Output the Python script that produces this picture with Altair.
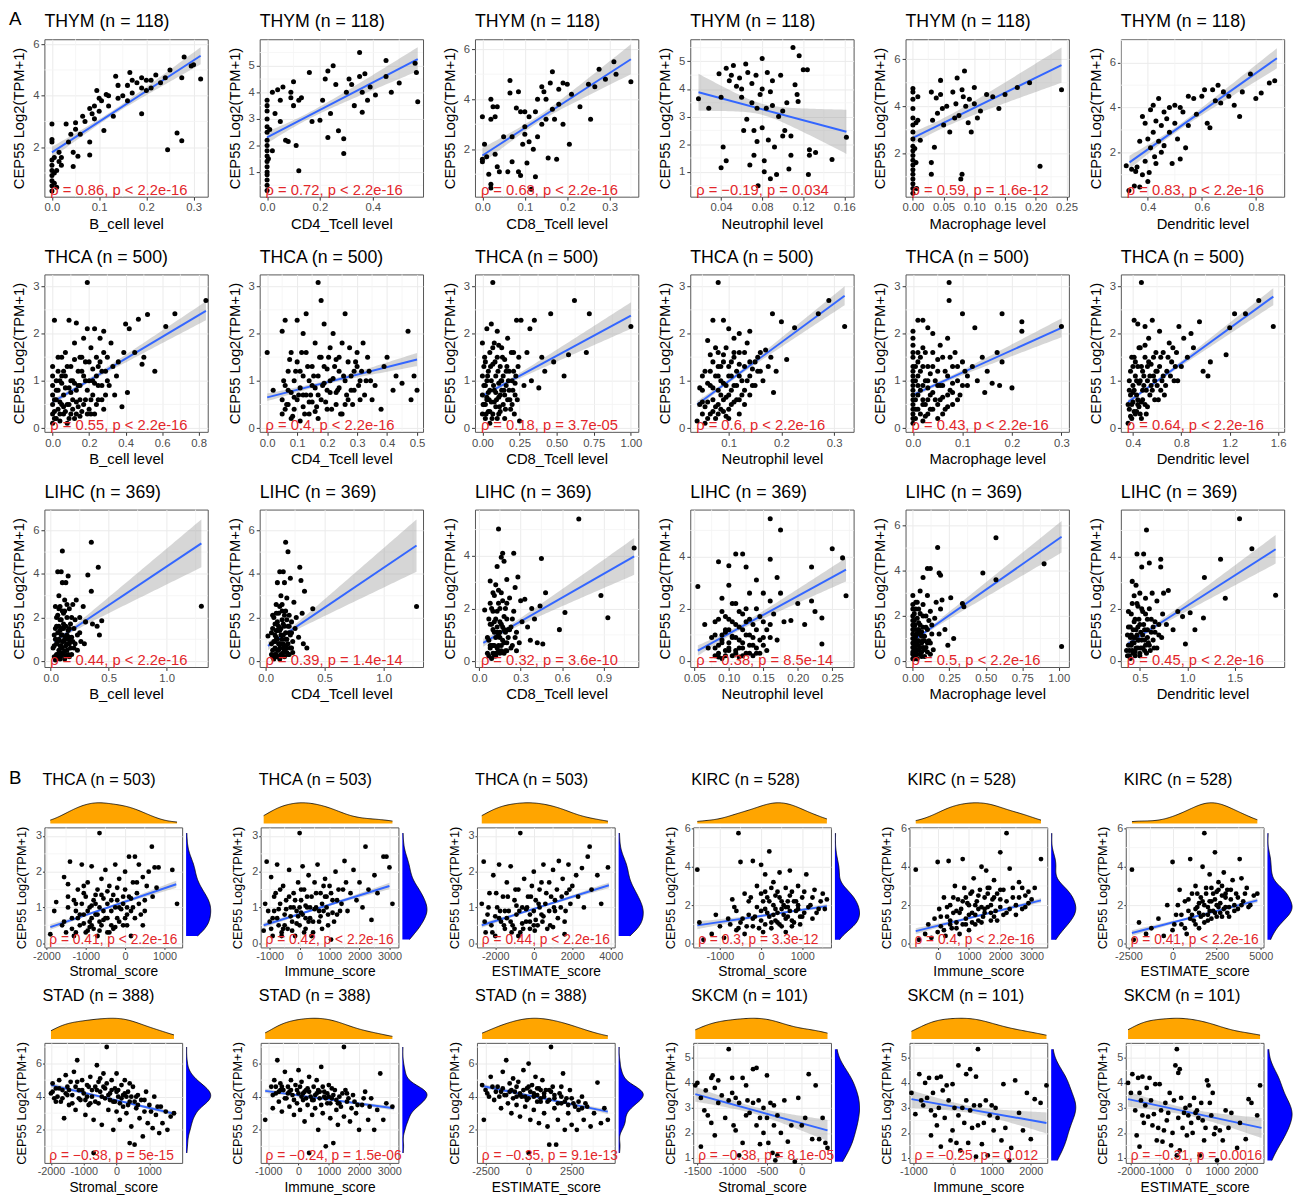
import altair as alt
import pandas as pd
import numpy as np

FONT = "Liberation Sans"
YLAB = "CEP55 Log2(TPM+1)"
RED = "#E3262A"

# ---------------- A, row 1: THYM (n = 118) ----------------
THYM_B = [(0.0,0.3),(0.0,0.5),(0.0,0.7),(0.0,0.9),(0.0,1.1),(0.0,1.3),(0.0,1.5),(0.0,2.2),(0.0,2.3),(0.0,2.9),
          (0.005,0.6),(0.005,1.0),(0.005,1.6),(0.01,0.45),(0.01,1.1),(0.015,1.8),(0.015,1.45),(0.02,1.6),(0.02,1.3),
          (0.03,2.9),(0.035,2.2),(0.04,2.5),(0.045,1.25),(0.045,1.8),(0.05,2.7),(0.05,2.95),(0.055,1.65),(0.06,2.5),
          (0.065,3.2),(0.07,3.0),(0.08,3.5),(0.08,2.2),(0.08,1.7),(0.085,3.3),(0.09,3.6),(0.095,4.2),(0.1,3.4),
          (0.105,3.8),(0.11,2.65),(0.115,4.05),(0.12,3.6),(0.13,3.2),(0.135,4.75),(0.14,3.9),(0.15,4.0),(0.16,4.4),
          (0.165,4.9),(0.17,4.1),(0.18,4.5),(0.19,3.3),(0.19,4.7),(0.2,4.2),(0.21,4.6),(0.22,4.8),(0.23,4.5),
          (0.245,1.9),(0.25,5.0),(0.265,2.55),(0.275,2.25),(0.275,4.7),(0.28,5.5),(0.295,5.15),(0.3,5.2),(0.315,4.65),
          (0.09,3.1),(0.1,3.9),(0.12,4.0),(0.14,4.4),(0.16,3.8),(0.17,4.6),(0.19,4.3),(0.2,4.6),(0.21,4.3),(0.24,4.7)]
THYM_CD4 = [(0,0.3),(0,0.5),(0,0.7),(0,0.9),(0,1.0),(0,1.2),(0,1.4),(0,1.6),(0,1.8),(0,2.0),(0,2.2),(0,2.5),(0,2.7),
            (0,3.0),(0,3.3),(0,3.5),(0,3.7),(0.005,1.5),(0.01,2.6),(0.02,1.8),(0.02,4.0),(0.03,3.2),(0.04,4.1),
            (0.05,3.7),(0.05,2.9),(0.06,4.2),(0.07,2.2),(0.08,2.15),(0.09,3.8),(0.09,4.0),(0.1,4.4),(0.1,3.5),
            (0.11,2.0),(0.12,3.7),(0.12,1.05),(0.13,3.8),(0.16,4.75),(0.17,2.9),(0.2,2.95),(0.21,3.7),(0.22,4.5),
            (0.23,4.8),(0.23,2.3),(0.24,3.2),(0.25,5.0),(0.26,4.3),(0.27,2.55),(0.29,1.7),(0.29,2.25),(0.3,4.0),
            (0.31,4.5),(0.32,4.3),(0.33,3.5),(0.35,5.5),(0.35,4.6),(0.36,4.0),(0.36,3.25),(0.37,4.7),(0.38,3.7),
            (0.39,4.2),(0.41,3.9),(0.45,5.2),(0.45,4.6),(0.47,4.0),(0.5,4.35),(0.56,5.1),(0.565,4.75),(0.57,3.65)]
THYM_CD8 = [(0.0,1.5),(0.0,1.6),(0.0,3.3),(0.005,2.2),(0.01,1.7),(0.015,1.0),(0.02,0.6),(0.02,0.45),(0.02,4.0),
            (0.02,3.2),(0.025,3.7),(0.03,3.3),(0.03,1.8),(0.035,1.3),(0.035,3.7),(0.04,1.1),(0.05,2.5),(0.06,1.1),
            (0.065,4.75),(0.065,4.25),(0.07,2.5),(0.07,1.5),(0.08,3.65),(0.085,1.1),(0.085,4.3),(0.09,0.95),
            (0.09,3.5),(0.095,2.2),(0.1,2.6),(0.1,2.9),(0.1,3.5),(0.105,1.45),(0.11,3.3),(0.11,2.3),(0.115,0.4),
            (0.12,2.0),(0.125,0.9),(0.125,3.5),(0.13,2.5),(0.13,4.0),(0.14,3.0),(0.14,4.5),(0.145,4.3),(0.15,3.2),
            (0.15,4.0),(0.155,1.65),(0.16,4.65),(0.165,5.1),(0.165,3.6),(0.17,3.2),(0.175,1.6),(0.18,4.4),(0.18,3.8),
            (0.19,4.65),(0.19,3.0),(0.2,4.6),(0.205,2.2),(0.21,4.2),(0.23,3.7),(0.25,4.6),(0.255,3.2),(0.265,4.5),
            (0.275,5.2),(0.29,4.8),(0.31,5.5),(0.315,5.0),(0.35,4.7)]
THYM_NEU = [(0.018,3.65),(0.028,3.3),(0.038,4.55),(0.04,3.7),(0.04,1.15),(0.042,1.9),(0.045,4.75),(0.045,1.4),
            (0.048,4.3),(0.05,4.5),(0.052,4.85),(0.055,4.1),(0.058,4.4),(0.06,4.0),(0.06,3.7),(0.062,2.5),(0.064,4.9),
            (0.065,2.9),(0.066,4.6),(0.068,1.25),(0.07,4.2),(0.07,3.5),(0.072,2.5),(0.072,1.6),(0.074,4.5),(0.075,3.3),
            (0.075,2.1),(0.076,0.5),(0.078,3.8),(0.08,4.0),(0.08,5.1),(0.08,2.6),(0.082,1.0),(0.082,1.4),(0.084,3.3),
            (0.085,4.6),(0.086,2.15),(0.088,0.75),(0.088,3.9),(0.09,4.3),(0.09,3.4),(0.092,1.9),(0.094,0.9),(0.096,3.0),
            (0.098,4.5),(0.1,3.2),(0.1,2.3),(0.102,2.5),(0.104,3.5),(0.106,1.1),(0.108,2.3),(0.108,1.6),(0.11,5.5),
            (0.112,4.15),(0.114,3.8),(0.115,3.55),(0.116,5.2),(0.12,4.7),(0.124,4.7),(0.125,0.9),(0.126,1.6),
            (0.126,1.8),(0.132,1.7),(0.148,1.45),(0.162,2.25)]
THYM_MAC = [(0,0.3),(0,0.5),(0,0.7),(0,0.9),(0,1.1),(0,1.3),(0,1.5),(0,1.7),(0,1.9),(0,2.1),(0,2.3),(0,2.6),(0,2.9),
            (0,3.2),(0,3.5),(0,3.9),(0,4.3),(0,4.6),(0,4.75),(0.003,2.2),(0.005,1.6),(0.005,3.3),(0.006,0.5),
            (0.008,4.4),(0.008,3.4),(0.012,2.55),(0.03,1.6),(0.03,1.1),(0.03,4.6),(0.032,3.4),(0.035,2.25),(0.038,4.35),
            (0.04,3.7),(0.045,5.1),(0.045,4.5),(0.048,3.9),(0.05,3.2),(0.055,4.0),(0.06,2.9),(0.065,4.6),(0.068,3.5),
            (0.07,4.1),(0.072,5.2),(0.075,3.6),(0.078,0.9),(0.08,1.1),(0.08,4.7),(0.082,4.4),(0.084,5.5),(0.086,4.0),
            (0.09,3.3),(0.092,4.3),(0.095,2.9),(0.1,4.1),(0.1,4.8),(0.105,3.5),(0.11,3.8),(0.12,4.5),(0.13,4.4),
            (0.14,3.9),(0.15,4.5),(0.17,4.8),(0.19,5.0),(0.207,1.45),(0.242,4.7)]
THYM_DC = [(0.32,1.4),(0.33,0.3),(0.34,1.25),(0.35,0.5),(0.355,1.15),(0.36,1.35),(0.37,0.45),(0.37,2.5),(0.38,1.0),
           (0.38,3.6),(0.39,3.3),(0.39,1.6),(0.4,2.6),(0.4,0.7),(0.405,1.1),(0.41,3.9),(0.41,2.2),(0.42,4.1),(0.42,2.9),
           (0.425,1.8),(0.43,3.4),(0.43,1.5),(0.44,4.4),(0.44,2.5),(0.45,3.2),(0.45,2.0),(0.46,3.8),(0.46,2.3),
           (0.47,3.5),(0.48,4.0),(0.48,2.9),(0.49,1.5),(0.5,4.1),(0.5,3.3),(0.51,2.6),(0.52,4.0),(0.52,1.7),(0.53,3.8),
           (0.54,2.2),(0.55,4.5),(0.55,3.2),(0.57,4.4),(0.58,3.7),(0.6,4.5),(0.61,4.8),(0.62,3.3),(0.63,3.1),
           (0.64,4.8),(0.65,4.3),(0.66,5.0),(0.67,4.2),(0.68,4.7),(0.7,4.5),(0.72,4.1),(0.74,3.6),(0.75,4.7),
           (0.78,5.5),(0.8,4.4),(0.82,4.65),(0.85,5.1),(0.87,5.2)]

# ---------------- A, row 2: THCA (n = 500) ----------------
THCA_B = [(0.0,0.1),(0.0,0.3),(0.0,0.5),(0.0,0.7),(0.0,0.9),(0.0,1.1),(0.0,1.3),(0.01,2.28),(0.02,0.2),(0.02,0.6),
          (0.02,1.0),(0.03,0.4),(0.03,0.8),(0.03,1.2),(0.04,0.15),(0.05,0.5),(0.05,0.95),(0.05,1.5),(0.06,0.3),
          (0.06,0.7),(0.07,1.1),(0.07,1.6),(0.08,0.1),(0.08,0.5),(0.09,0.85),(0.09,2.28),(0.1,0.3),(0.1,1.3),
          (0.11,0.6),(0.11,1.0),(0.12,1.8),(0.12,0.2),(0.13,0.8),(0.13,2.22),(0.14,0.45),(0.14,1.2),(0.15,1.5),
          (0.15,0.9),(0.16,0.35),(0.17,1.1),(0.17,1.9),(0.18,0.6),(0.18,1.4),(0.19,3.08),(0.19,2.1),(0.2,0.4),
          (0.2,1.0),(0.21,1.7),(0.22,0.7),(0.22,1.25),(0.23,2.1),(0.24,0.5),(0.24,1.5),(0.25,0.9),(0.26,1.9),
          (0.27,1.2),(0.28,2.05),(0.29,0.7),(0.3,1.5),(0.3,1.0),(0.32,1.8),(0.34,0.7),(0.36,1.4),(0.38,0.45),
          (0.39,1.6),(0.4,2.2),(0.41,0.75),(0.42,2.1),(0.45,1.6),(0.47,2.3),(0.49,1.35),(0.5,1.5),(0.52,2.4),
          (0.56,1.2),(0.62,2.15),(0.67,2.42),(0.84,2.7),
          (0.01,0.2),(0.01,0.6),(0.04,0.55),(0.04,1.0),(0.06,1.2),(0.07,0.35),(0.09,0.5),(0.1,0.75),(0.12,0.95),
          (0.13,0.3),(0.15,0.6),(0.16,1.2),(0.19,0.8),(0.21,0.3),(0.23,0.95),(0.25,1.3),(0.27,0.6),(0.28,1.6)]
THCA_B_CORE = [(0.01,0.35),(0.02,0.8),(0.03,1.5),(0.04,0.3),(0.05,1.1),(0.06,0.45),(0.07,0.85),(0.08,1.3),
               (0.09,0.2),(0.1,1.0),(0.11,0.4),(0.12,1.45),(0.13,0.55),(0.14,0.9),(0.15,0.25),(0.16,1.5),(0.17,0.5),
               (0.18,1.0),(0.19,0.3),(0.2,1.4),(0.21,0.6),(0.22,1.0),(0.23,0.3),(0.24,1.1),(0.25,0.6),(0.26,1.4),
               (0.27,0.9),(0.28,0.4),(0.29,1.2),(0.31,0.9),(0.33,1.3),(0.35,1.1)]
THCA_CD4 = [(0.0,1.6),(0.02,0.8),(0.05,0.3),(0.05,0.6),(0.05,2.05),(0.06,2.28),(0.06,0.9),(0.07,0.5),(0.07,1.2),
            (0.08,0.2),(0.08,0.75),(0.08,1.6),(0.09,0.4),(0.09,1.0),(0.1,2.28),(0.1,0.6),(0.1,1.4),(0.11,0.15),
            (0.11,0.85),(0.12,1.1),(0.12,2.0),(0.12,0.45),(0.13,2.42),(0.13,0.7),(0.13,1.6),(0.14,0.3),(0.14,1.0),
            (0.15,1.3),(0.15,0.55),(0.16,1.8),(0.16,0.85),(0.17,3.08),(0.17,0.2),(0.17,1.1),(0.18,2.7),(0.18,0.6),
            (0.18,1.5),(0.19,0.95),(0.19,2.2),(0.2,0.4),(0.2,1.25),(0.21,1.7),(0.21,0.75),(0.22,1.05),(0.22,2.0),
            (0.23,0.5),(0.23,1.45),(0.24,1.2),(0.24,0.85),(0.25,1.8),(0.25,0.3),(0.26,2.42),(0.26,1.0),(0.27,0.6),
            (0.27,1.4),(0.28,1.1),(0.29,0.8),(0.3,1.6),(0.3,1.3),(0.31,0.6),(0.32,1.8),(0.33,1.0),(0.34,1.2),
            (0.35,0.6),(0.36,0.9),(0.38,0.4),(0.39,1.3),(0.4,1.5),(0.42,0.8),(0.43,1.1),(0.45,0.95),(0.47,2.05),
            (0.48,0.6),(0.49,1.1),(0.5,0.8),
            (0.06,0.4),(0.07,0.8),(0.09,0.65),(0.11,1.2),(0.12,0.7),(0.14,0.55),(0.15,0.9),(0.16,0.35),(0.17,0.7),
            (0.19,1.3),(0.2,0.8),(0.21,1.0),(0.23,0.75),(0.24,1.5),(0.26,0.5),(0.28,0.8),(0.29,1.2),(0.31,1.0)]
THCA_CD4_CORE = [(0.055,1.0),(0.065,0.5),(0.075,1.45),(0.085,0.25),(0.095,1.2),(0.105,0.7),(0.115,1.6),(0.125,0.3),
                 (0.135,1.3),(0.145,0.7),(0.155,1.1),(0.165,0.45),(0.175,1.5),(0.185,0.9),(0.195,0.55),(0.205,1.5),
                 (0.215,0.4),(0.225,1.3),(0.235,0.8),(0.245,0.3),(0.255,1.1),(0.265,0.7),(0.275,1.7),(0.285,0.5),
                 (0.295,1.4),(0.305,0.9),(0.315,1.2),(0.325,0.7),(0.335,1.5),(0.345,1.0)]
THCA_CD8 = [(0.0,0.3),(0.0,0.7),(0.0,1.1),(0.0,1.8),(0.02,0.2),(0.02,0.5),(0.02,0.9),(0.02,1.4),(0.03,2.1),
            (0.04,0.35),(0.04,0.75),(0.04,1.2),(0.05,1.6),(0.05,0.1),(0.06,0.55),(0.06,1.0),(0.06,2.2),(0.07,3.08),
            (0.07,0.3),(0.07,1.35),(0.08,0.8),(0.08,1.8),(0.09,0.45),(0.09,1.1),(0.1,0.2),(0.1,1.5),(0.1,2.05),
            (0.11,0.65),(0.11,0.95),(0.12,1.3),(0.12,0.35),(0.13,1.7),(0.13,0.8),(0.14,0.5),(0.14,1.1),(0.15,0.2),
            (0.15,1.45),(0.16,0.9),(0.17,0.6),(0.17,1.9),(0.18,1.2),(0.19,0.4),(0.2,1.0),(0.21,1.6),(0.22,0.7),
            (0.23,2.28),(0.24,1.3),(0.25,0.15),(0.26,2.28),(0.28,0.9),(0.3,1.6),(0.32,2.1),(0.33,1.0),(0.35,2.28),
            (0.38,0.85),(0.4,1.5),(0.42,1.2),(0.46,2.42),(0.48,1.4),(0.55,1.1),(0.58,1.55),(0.62,2.7),(0.7,1.6),
            (0.72,2.42),(1.0,2.15),
            (0.01,0.5),(0.01,1.3),(0.03,0.6),(0.03,1.0),(0.05,0.8),(0.08,0.55),(0.09,0.75),(0.11,0.3),(0.12,0.7),
            (0.13,1.0),(0.15,0.7),(0.16,1.2),(0.18,0.8),(0.2,0.5),(0.21,1.2),(0.22,0.95)]
THCA_CD8_CORE = [(0.005,0.5),(0.01,0.9),(0.015,1.5),(0.025,0.3),(0.035,1.1),(0.045,0.6),(0.055,1.3),(0.065,0.2),
                 (0.075,0.9),(0.085,1.4),(0.095,0.6),(0.105,1.2),(0.115,0.45),(0.125,1.0),(0.135,1.5),(0.145,0.8),
                 (0.155,0.4),(0.165,1.3),(0.175,1.0),(0.185,0.6),(0.195,1.6),(0.205,0.8),(0.215,0.3),(0.225,1.1),
                 (0.235,0.6),(0.245,1.5),(0.03,0.65),(0.05,0.35),(0.07,1.7),(0.11,1.75)]
THCA_NEU = [(0.04,0.15),(0.045,0.5),(0.05,0.3),(0.05,0.8),(0.055,0.1),(0.055,1.2),(0.06,0.55),(0.06,1.85),
            (0.065,0.3),(0.065,0.9),(0.07,1.4),(0.07,2.28),(0.07,0.6),(0.075,0.2),(0.075,1.1),(0.08,3.08),(0.08,0.8),
            (0.08,1.6),(0.085,0.4),(0.085,1.3),(0.09,2.28),(0.09,0.95),(0.09,0.6),(0.095,1.7),(0.095,0.25),(0.1,1.1),
            (0.1,2.1),(0.1,0.7),(0.105,1.4),(0.105,0.5),(0.11,1.9),(0.11,0.9),(0.115,1.2),(0.12,0.6),(0.12,1.6),
            (0.12,2.0),(0.125,1.0),(0.13,1.3),(0.13,0.8),(0.135,1.8),(0.14,1.1),(0.14,2.05),(0.145,0.9),(0.15,1.4),
            (0.155,1.2),(0.16,1.6),(0.165,1.0),(0.17,1.65),(0.175,1.3),(0.18,1.5),(0.183,2.42),(0.185,0.75),(0.19,1.2),
            (0.2,2.25),(0.21,1.45),(0.225,2.12),(0.27,2.42),(0.29,2.7),(0.32,2.15),
            (0.05,0.55),(0.06,0.2),(0.065,1.2),(0.07,0.35),(0.08,0.5),(0.08,1.1),(0.085,0.7),(0.09,1.4),(0.095,0.9),
            (0.1,0.4),(0.105,0.8),(0.11,1.5),(0.115,0.6),(0.12,1.1),(0.13,0.5),(0.14,1.4)]
THCA_NEU_CORE = [(0.045,0.85),(0.05,1.1),(0.055,0.45),(0.06,0.95),(0.065,1.55),(0.07,0.85),(0.075,0.45),(0.075,1.7),
                 (0.08,0.3),(0.08,1.3),(0.085,1.0),(0.09,0.35),(0.09,1.55),(0.095,0.65),(0.1,1.3),(0.1,0.2),
                 (0.105,1.1),(0.11,0.55),(0.11,1.6),(0.115,0.9),(0.12,0.3),(0.12,1.35),(0.125,0.7),(0.13,1.6),
                 (0.135,1.0),(0.14,0.7),(0.145,1.25),(0.15,0.9),(0.155,1.5),(0.16,1.2)]
THCA_MAC = [(0,0.1),(0,0.3),(0,0.5),(0,0.7),(0,0.9),(0,1.1),(0,1.3),(0,1.6),(0,1.9),(0,2.05),(0.005,0.2),(0.005,0.6),
            (0.005,1.0),(0.01,2.28),(0.01,0.4),(0.01,1.4),(0.015,0.8),(0.015,1.2),(0.02,0.15),(0.02,2.28),(0.02,1.7),
            (0.025,0.5),(0.025,1.0),(0.03,2.12),(0.03,0.3),(0.03,1.3),(0.035,0.7),(0.04,1.6),(0.04,0.4),(0.04,2.0),
            (0.045,1.0),(0.05,0.2),(0.05,1.2),(0.055,0.6),(0.055,1.75),(0.06,0.9),(0.06,1.5),(0.065,0.4),(0.07,1.1),
            (0.07,1.9),(0.073,3.08),(0.073,2.7),(0.075,0.8),(0.08,1.3),(0.08,0.5),(0.085,1.6),(0.09,1.0),(0.095,0.7),
            (0.1,1.4),(0.1,2.42),(0.105,1.2),(0.11,0.9),(0.12,1.3),(0.125,2.12),(0.13,1.0),(0.14,1.5),(0.145,0.75),
            (0.15,1.2),(0.16,0.95),(0.17,1.6),(0.175,0.9),(0.18,2.42),(0.18,1.4),(0.2,0.85),(0.22,2.25),(0.22,2.05),
            (0.3,2.15),
            (0.0,0.4),(0.0,0.8),(0.0,1.2),(0.01,0.7),(0.01,1.1),(0.02,0.5),(0.02,0.9),(0.03,0.6),(0.03,1.0),
            (0.04,0.75),(0.05,0.5),(0.05,0.9),(0.06,0.65),(0.07,0.45),(0.08,0.95),(0.09,0.6)]
THCA_MAC_CORE = [(0,0.2),(0,0.6),(0,1.0),(0,1.5),(0,1.75),(0.005,0.4),(0.005,1.3),(0.01,0.9),(0.01,1.6),(0.015,0.3),
                 (0.015,1.5),(0.02,0.6),(0.02,1.3),(0.025,0.25),(0.025,1.6),(0.03,0.85),(0.035,1.15),(0.035,0.4),
                 (0.04,1.3),(0.045,0.6),(0.05,1.45),(0.055,0.9),(0.06,0.3),(0.065,1.2),(0.07,0.7),(0.075,1.5),
                 (0.08,0.75),(0.09,1.3),(0.1,0.9),(0.11,1.1)]
THCA_DC = [(0.36,0.1),(0.37,0.4),(0.38,0.7),(0.38,1.2),(0.39,0.2),(0.4,0.55),(0.4,0.9),(0.41,2.28),(0.41,1.5),
           (0.42,0.3),(0.42,1.1),(0.43,0.7),(0.44,2.2),(0.44,1.3),(0.45,0.45),(0.45,0.95),(0.46,1.7),(0.47,3.08),
           (0.47,0.2),(0.48,1.2),(0.48,0.8),(0.5,1.5),(0.5,2.15),(0.5,0.5),(0.52,1.0),(0.53,1.9),(0.54,0.7),
           (0.55,1.35),(0.56,2.28),(0.57,1.1),(0.58,0.6),(0.59,1.6),(0.6,0.9),(0.62,1.3),(0.62,2.05),(0.64,1.0),
           (0.65,1.6),(0.66,0.7),(0.68,1.2),(0.7,1.8),(0.72,1.4),(0.74,1.0),(0.76,1.6),(0.78,2.15),(0.8,1.3),
           (0.82,1.9),(0.85,1.5),(0.88,2.0),(0.9,1.7),(0.95,2.25),(0.98,1.2),(1.02,1.1),(1.04,1.4),(1.17,1.55),
           (1.2,2.12),(1.24,2.42),(1.33,2.42),(1.44,2.7),(1.56,2.15),
           (0.37,0.8),(0.39,0.5),(0.4,1.3),(0.41,0.8),(0.43,0.35),(0.44,0.6),(0.46,1.0),(0.47,0.55),(0.49,0.9),
           (0.51,0.3),(0.52,1.3),(0.54,1.1),(0.56,0.8),(0.58,1.0),(0.6,1.2),(0.63,0.8)]
THCA_DC_CORE = [(0.36,0.5),(0.37,1.0),(0.38,0.25),(0.39,1.5),(0.4,0.75),(0.41,0.35),(0.42,1.4),(0.43,1.0),(0.44,0.5),
                (0.45,1.7),(0.46,0.3),(0.47,1.3),(0.48,0.6),(0.49,1.1),(0.5,1.75),(0.51,0.8),(0.52,0.45),(0.53,1.4),
                (0.55,0.9),(0.57,1.5),(0.59,1.2),(0.61,0.6),(0.63,1.5),(0.65,1.1),(0.67,0.9),(0.69,1.5),(0.71,1.1),
                (0.73,1.7),(0.75,1.3),(0.77,1.0)]

# ---------------- A, row 3: LIHC (n = 369) ----------------
LIHC_B = [(0.02,0.6),(0.03,0.2),(0.03,1.2),(0.04,2.5),(0.04,0.05),(0.05,0.8),(0.05,1.6),(0.06,0.3),(0.06,2.1),
          (0.06,4.1),(0.07,1.0),(0.07,0.5),(0.07,3.0),(0.08,1.4),(0.08,0.1),(0.08,2.5),(0.09,4.1),(0.09,0.7),
          (0.09,1.9),(0.1,5.05),(0.1,1.2),(0.1,0.3),(0.1,3.6),(0.11,2.2),(0.11,0.9),(0.12,1.6),(0.12,0.1),(0.12,2.8),
          (0.13,3.6),(0.13,1.1),(0.14,0.5),(0.14,2.0),(0.15,1.4),(0.15,3.9),(0.16,0.8),(0.16,2.4),(0.17,1.7),
          (0.18,0.3),(0.18,1.1),(0.19,2.6),(0.2,1.5),(0.21,0.8),(0.22,2.8),(0.23,1.2),(0.25,2.0),(0.26,0.9),
          (0.28,2.5),(0.29,0.8),(0.3,1.8),(0.32,3.95),(0.35,5.45),(0.35,3.2),(0.36,1.7),(0.41,4.3),(0.4,1.6),
          (0.42,1.2),(0.44,1.85),(1.3,2.52),
          (0.04,1.0),(0.05,0.3),(0.06,1.3),(0.07,0.2),(0.08,0.7),(0.09,1.2),(0.1,0.6),(0.11,1.5),(0.12,0.45),
          (0.13,0.7),(0.14,1.2),(0.15,0.3),(0.16,1.1),(0.17,0.6),(0.19,0.9)]
LIHC_B_CORE = [(0.03,0.7),(0.04,1.5),(0.05,0.1),(0.05,2.0),(0.06,0.9),(0.07,1.6),(0.07,2.4),(0.08,0.4),(0.08,1.9),
               (0.09,0.25),(0.09,1.5),(0.1,0.9),(0.1,2.3),(0.11,0.4),(0.11,1.7),(0.12,1.0),(0.12,2.3),(0.13,0.25),
               (0.13,1.6),(0.14,0.8),(0.14,2.6),(0.15,1.0),(0.16,0.2),(0.16,1.5),(0.17,0.9),(0.18,2.0),(0.2,0.6),
               (0.21,1.9),(0.23,0.5),(0.25,1.3)]
LIHC_CD4 = [(0.02,1.15),(0.05,0.3),(0.05,0.8),(0.06,1.5),(0.07,0.1),(0.07,2.0),(0.08,0.6),(0.08,1.2),(0.09,2.6),
            (0.09,0.3),(0.1,1.0),(0.1,1.8),(0.1,3.6),(0.11,0.5),(0.11,2.2),(0.12,1.4),(0.12,4.1),(0.12,0.1),(0.13,3.0),
            (0.13,0.8),(0.14,1.9),(0.14,2.6),(0.15,0.4),(0.15,1.2),(0.15,4.1),(0.16,3.6),(0.16,1.6),(0.17,5.45),
            (0.17,0.7),(0.17,2.3),(0.18,1.0),(0.18,2.9),(0.19,5.02),(0.19,1.6),(0.2,0.3),(0.2,2.1),(0.21,3.8),
            (0.21,1.2),(0.22,1.8),(0.23,0.9),(0.24,2.7),(0.25,1.5),(0.26,2.0),(0.28,1.1),(0.29,4.3),(0.3,3.7),
            (0.31,2.2),(0.32,0.8),(0.33,3.2),(0.35,0.6),(0.4,2.4),(1.28,2.5),
            (0.06,0.5),(0.08,0.9),(0.09,1.4),(0.1,0.2),(0.11,0.8),(0.12,0.6),(0.13,1.2),(0.14,0.3),(0.15,0.8),
            (0.16,0.5),(0.17,1.3),(0.18,0.4),(0.19,0.8),(0.2,1.3),(0.22,0.6)]
LIHC_CD4_CORE = [(0.05,1.3),(0.06,0.2),(0.06,2.1),(0.07,0.9),(0.08,1.7),(0.08,0.3),(0.09,1.1),(0.09,2.2),(0.1,0.5),
                 (0.1,1.4),(0.11,0.2),(0.11,1.6),(0.12,0.8),(0.12,2.5),(0.13,0.3),(0.13,1.5),(0.14,1.0),(0.14,2.3),
                 (0.15,0.6),(0.15,1.7),(0.16,0.2),(0.16,2.1),(0.17,1.0),(0.18,0.6),(0.18,1.9),(0.19,0.3),(0.2,1.6),
                 (0.21,0.6),(0.22,1.3),(0.23,0.4)]
LIHC_CD8 = [(0.04,1.95),(0.06,0.3),(0.07,0.8),(0.08,3.05),(0.08,1.4),(0.09,0.1),(0.09,2.0),(0.1,0.6),(0.1,2.6),
            (0.11,1.1),(0.11,0.2),(0.12,1.6),(0.12,2.9),(0.13,0.5),(0.13,3.6),(0.14,5.02),(0.14,1.0),(0.14,2.2),
            (0.15,0.3),(0.15,1.5),(0.16,3.95),(0.16,2.6),(0.17,0.8),(0.17,4.1),(0.18,1.2),(0.18,3.8),(0.19,2.0),
            (0.19,0.4),(0.2,1.6),(0.2,3.1),(0.21,0.9),(0.22,2.4),(0.23,1.3),(0.24,0.6),(0.25,1.9),(0.25,4.1),
            (0.26,2.8),(0.27,1.1),(0.28,3.2),(0.29,0.7),(0.3,2.3),(0.31,1.5),(0.33,2.35),(0.35,1.3),(0.37,0.8),
            (0.38,2.0),(0.4,1.6),(0.42,0.7),(0.44,2.1),(0.45,3.9),(0.46,0.65),(0.48,2.6),(0.58,1.2),(0.62,1.85),
            (0.72,5.4),(0.88,2.5),(0.93,1.65),(1.12,4.3),
            (0.08,0.5),(0.1,1.2),(0.11,0.6),(0.12,0.3),(0.13,1.1),(0.14,0.6),(0.15,0.9),(0.16,0.4),(0.17,1.3),
            (0.18,0.7),(0.2,0.4),(0.21,1.2),(0.23,0.5),(0.26,0.9)]
LIHC_CD8_CORE = [(0.06,0.9),(0.07,1.6),(0.07,0.2),(0.08,0.6),(0.08,2.2),(0.09,1.4),(0.09,0.6),(0.1,1.9),(0.1,0.3),
                 (0.11,1.5),(0.11,2.5),(0.12,0.9),(0.12,0.2),(0.13,1.9),(0.13,1.3),(0.14,0.4),(0.14,2.7),(0.15,1.1),
                 (0.15,2.0),(0.16,0.6),(0.16,1.4),(0.17,2.3),(0.18,0.3),(0.18,1.7),(0.19,1.1),(0.2,0.7),(0.2,2.2),
                 (0.22,1.2),(0.24,1.6),(0.27,0.4)]
LIHC_NEU = [(0.055,2.85),(0.065,1.4),(0.07,0.5),(0.075,0.9),(0.08,0.2),(0.08,1.5),(0.085,3.8),(0.085,0.6),(0.09,1.0),
            (0.09,2.4),(0.09,0.1),(0.095,1.7),(0.095,0.4),(0.1,3.65),(0.1,1.2),(0.1,0.7),(0.1,2.9),(0.105,0.2),
            (0.105,1.5),(0.11,4.1),(0.11,0.9),(0.11,2.2),(0.115,0.5),(0.115,1.3),(0.12,4.1),(0.12,1.8),(0.12,0.2),
            (0.125,3.6),(0.125,1.0),(0.13,2.6),(0.13,0.6),(0.135,1.4),(0.14,3.1),(0.14,0.3),(0.14,2.0),(0.145,0.8),
            (0.15,2.6),(0.15,1.5),(0.155,1.2),(0.16,5.45),(0.16,3.9),(0.16,2.3),(0.165,1.8),(0.17,3.2),(0.17,0.8),
            (0.175,5.02),(0.175,2.6),(0.18,1.5),(0.19,1.55),(0.2,2.2),(0.21,1.4),(0.22,3.6),(0.22,2.3),(0.225,1.9),
            (0.235,1.65),(0.235,0.65),(0.25,4.3),(0.265,3.95),(0.27,2.5),
            (0.085,0.3),(0.09,0.7),(0.095,1.1),(0.1,0.4),(0.105,0.9),(0.11,0.3),(0.115,0.8),(0.12,0.5),(0.125,1.5),
            (0.13,0.3),(0.135,0.9),(0.14,0.5),(0.15,0.6),(0.16,0.9)]
LIHC_NEU_CORE = [(0.08,0.5),(0.08,1.0),(0.085,1.6),(0.085,0.15),(0.09,0.8),(0.09,1.9),(0.095,0.2),(0.095,1.2),
                 (0.1,0.5),(0.1,1.6),(0.105,0.95),(0.105,2.2),(0.11,0.4),(0.11,1.4),(0.115,0.15),(0.115,1.9),
                 (0.12,0.7),(0.12,1.2),(0.125,0.3),(0.125,2.0),(0.13,1.0),(0.13,1.6),(0.135,0.2),(0.135,0.6),
                 (0.14,1.2),(0.145,1.7),(0.145,0.3),(0.15,0.9),(0.155,0.4),(0.16,1.4)]
LIHC_MAC = [(0,0.1),(0,0.4),(0,0.8),(0,1.2),(0,1.6),(0,2.0),(0,2.5),(0,2.9),(0.01,0.2),(0.01,0.6),(0.01,1.0),
            (0.01,1.8),(0.02,2.3),(0.02,0.3),(0.02,1.4),(0.03,0.9),(0.03,2.6),(0.03,0.1),(0.04,1.7),(0.04,0.5),
            (0.05,3.1),(0.05,1.2),(0.05,2.1),(0.06,0.4),(0.06,0.8),(0.07,3.7),(0.07,1.5),(0.07,2.5),(0.08,0.2),
            (0.08,1.1),(0.09,2.0),(0.09,0.6),(0.1,4.1),(0.1,1.4),(0.1,2.9),(0.11,0.9),(0.12,4.1),(0.12,2.2),(0.13,1.6),
            (0.14,0.5),(0.15,1.9),(0.16,2.6),(0.17,5.02),(0.18,3.9),(0.18,1.2),(0.19,3.8),(0.19,2.3),(0.2,2.7),
            (0.22,1.4),(0.24,0.7),(0.26,2.8),(0.28,1.0),(0.34,2.55),(0.35,2.4),(0.48,3.9),(0.57,5.45),(0.57,3.6),
            (0.9,4.3),(1.02,0.65),
            (0.0,0.6),(0.0,1.4),(0.01,0.4),(0.02,0.7),(0.02,1.1),(0.03,0.5),(0.04,0.9),(0.04,1.3),(0.05,0.3),
            (0.06,1.1),(0.07,0.6),(0.08,0.9),(0.1,0.4),(0.12,0.8)]
LIHC_MAC_CORE = [(0,0.3),(0,1.0),(0,1.8),(0,2.3),(0.005,0.6),(0.005,1.4),(0.01,0.1),(0.01,2.1),(0.015,0.9),
                 (0.015,1.6),(0.02,0.5),(0.02,2.6),(0.025,1.2),(0.03,0.3),(0.03,1.9),(0.035,0.7),(0.04,1.4),
                 (0.04,2.3),(0.05,0.6),(0.05,1.6),(0.06,0.2),(0.06,1.3),(0.07,0.9),(0.07,2.0),(0.08,0.5),(0.09,1.5),
                 (0.1,0.8),(0.11,1.8),(0.12,0.3),(0.13,1.2)]
LIHC_DC = [(0.37,0.2),(0.38,0.6),(0.38,1.3),(0.4,0.1),(0.4,0.9),(0.41,1.8),(0.42,0.4),(0.42,3.05),(0.43,1.2),
           (0.44,2.5),(0.44,0.7),(0.45,0.2),(0.45,1.6),(0.46,2.9),(0.47,1.0),(0.47,4.1),(0.48,0.5),(0.48,2.1),
           (0.5,1.4),(0.5,0.3),(0.5,2.6),(0.52,0.8),(0.52,3.6),(0.53,1.9),(0.54,4.1),(0.55,1.2),(0.55,0.4),(0.56,2.4),
           (0.57,5.02),(0.58,1.6),(0.59,0.7),(0.6,3.75),(0.6,2.0),(0.62,1.1),(0.63,2.6),(0.65,0.5),(0.66,1.5),
           (0.68,2.3),(0.7,1.0),(0.72,3.9),(0.72,3.6),(0.74,1.8),(0.75,2.6),(0.78,1.4),(0.8,2.7),(0.85,1.2),(0.9,1.9),
           (0.95,1.7),(0.98,0.65),(1.03,1.85),(1.08,1.2),(1.17,1.65),(1.18,3.2),(1.35,3.9),(1.4,2.4),(1.55,5.45),
           (1.68,4.3),(1.93,2.52),
           (0.39,0.4),(0.41,1.0),(0.42,0.7),(0.43,0.3),(0.45,0.9),(0.46,0.5),(0.48,1.3),(0.49,0.8),(0.51,0.5),
           (0.53,1.0),(0.56,0.6),(0.58,0.9),(0.61,0.4),(0.64,1.3)]
LIHC_DC_CORE = [(0.36,0.4),(0.37,1.0),(0.38,1.9),(0.39,0.2),(0.4,1.3),(0.41,0.6),(0.42,2.2),(0.43,0.9),(0.44,1.5),
                (0.45,0.35),(0.46,1.2),(0.47,2.2),(0.48,0.8),(0.49,1.6),(0.5,0.2),(0.51,1.1),(0.52,2.0),(0.53,0.5),
                (0.54,1.4),(0.55,0.8),(0.56,1.8),(0.57,0.3),(0.58,1.2),(0.6,0.6),(0.62,1.6),(0.64,0.8),(0.66,1.1),
                (0.68,0.5),(0.7,1.4),(0.73,0.9)]

# ---------------- B, row 1: THCA (n = 503), KIRC (n = 528) ----------------
THCA_STR = [(-1900,0.25),(-1800,0.9),(-1750,1.15),(-1600,0.5),(-1550,1.85),(-1500,0.3),(-1450,1.0),(-1450,1.65),
            (-1400,2.28),(-1350,0.7),(-1300,1.2),(-1300,0.2),(-1250,0.9),(-1200,1.5),(-1150,0.5),(-1100,1.1),
            (-1100,2.2),(-1050,0.8),(-1000,0.3),(-1000,1.3),(-950,1.7),(-900,0.6),(-900,1.0),(-850,2.15),(-800,0.4),
            (-800,1.2),(-750,0.8),(-700,1.5),(-700,0.2),(-650,3.08),(-650,1.0),(-600,0.5),(-600,1.8),(-550,1.25),
            (-500,0.7),(-500,2.05),(-450,0.3),(-450,1.1),(-400,1.6),(-350,0.9),(-300,1.35),(-300,0.4),(-250,2.2),
            (-200,0.7),(-200,1.2),(-150,1.8),(-100,0.95),(-50,0.5),(0,1.5),(0,2.0),(50,0.8),(100,1.3),(100,2.42),
            (150,0.2),(200,1.7),(200,1.0),(250,2.42),(300,1.4),(350,2.2),(400,0.8),(450,1.85),(500,1.2),(550,1.6),
            (600,2.0),(680,2.7),(700,1.3),(750,2.12),(800,1.55),(850,2.12),(1200,2.05),(1320,1.1),
            (-1200,0.7),(-1050,0.55),(-950,0.9),(-850,0.7),(-750,1.1),(-650,0.6),(-550,0.9),(-450,0.7),(-350,0.5),
            (-250,1.0),(-150,0.6),(-50,1.1),(50,1.0),(150,0.9),(-700,0.8),(-900,0.45)]
THCA_STR_CORE = [(-1550,0.6),(-1450,1.3),(-1350,0.4),(-1250,1.1),(-1150,0.8),(-1050,1.4),(-950,0.35),(-850,1.05),
                 (-750,1.35),(-650,0.35),(-550,0.65),(-450,1.45),(-350,1.2),(-250,0.45),(-150,1.0),(-50,1.3),
                 (50,0.5),(150,1.25),(250,0.7),(350,1.1),(450,0.5),(-1250,0.3),(-1050,1.6),(-850,0.5),(-600,1.35),
                 (-400,0.3),(-200,1.55),(0,0.7),(300,1.7),(500,0.9)]
THCA_IMM = [(-1200,0.35),(-1150,1.1),(-1100,2.28),(-1000,0.6),(-950,1.85),(-900,0.2),(-850,0.9),(-800,1.4),
            (-750,2.2),(-700,0.5),(-650,1.1),(-600,0.3),(-550,1.6),(-500,0.8),(-450,1.2),(-400,0.4),(-350,2.05),
            (-300,1.0),(-250,0.6),(-200,1.4),(-150,0.2),(-100,0.9),(-50,1.7),(0,3.08),(0,0.5),(50,1.2),(100,2.15),
            (100,0.8),(150,1.5),(200,0.4),(250,1.0),(300,1.9),(350,0.7),(400,1.3),(450,0.3),(500,1.7),(550,1.0),
            (600,2.2),(650,0.6),(700,1.4),(750,1.1),(800,0.9),(850,1.8),(900,1.3),(950,0.5),(1000,1.6),(1050,0.1),
            (1100,1.2),(1200,2.0),(1250,0.8),(1300,1.5),(1400,1.1),(1500,2.3),(1550,1.7),(1600,0.9),(1700,1.4),
            (1800,2.05),(1900,1.2),(2000,1.7),(2100,1.0),(2200,2.7),(2300,1.5),(2400,0.65),(2500,1.9),(2600,1.4),
            (2800,2.42),(2900,2.42),(3000,2.12),(3100,1.1),
            (-900,0.7),(-700,0.95),(-500,0.5),(-300,0.75),(-100,0.55),(50,0.85),(200,1.05),(300,0.6),(500,0.95),
            (700,0.75),(900,1.0),(1100,0.85),(200,0.7),(-200,1.0)]
THCA_IMM_CORE = [(-1050,0.9),(-950,0.4),(-850,1.3),(-750,0.7),(-650,1.5),(-550,0.4),(-450,0.95),(-350,1.3),
                 (-250,0.35),(-150,1.2),(-50,0.75),(50,1.5),(150,0.3),(250,1.3),(350,1.0),(450,0.6),(550,1.4),
                 (650,0.9),(750,0.4),(850,1.3),(950,0.8),(1050,1.4),(1150,0.6),(1250,1.2),(1350,0.9),(1450,1.5),
                 (-600,0.2),(0,1.0),(400,0.2),(800,1.6)]
THCA_EST = [(-2700,1.1),(-2600,2.28),(-2500,0.3),(-2400,0.8),(-2300,1.4),(-2200,0.5),(-2100,1.9),(-2000,0.2),
            (-1900,1.0),(-1800,2.2),(-1700,0.6),(-1600,1.3),(-1500,0.4),(-1400,1.7),(-1300,0.9),(-1200,2.15),
            (-1100,0.5),(-1000,1.2),(-900,0.8),(-800,1.5),(-700,3.08),(-700,0.3),(-600,1.0),(-500,1.8),(-400,0.6),
            (-300,1.3),(-200,0.4),(-100,1.6),(0,0.9),(0,2.0),(100,1.2),(200,0.5),(300,1.5),(400,0.8),(500,2.2),
            (600,1.1),(700,0.4),(800,1.7),(900,1.3),(1000,2.05),(1100,0.9),(1200,1.5),(1300,2.3),(1400,1.0),
            (1500,1.8),(1600,0.25),(1700,1.4),(1800,2.2),(1900,1.1),(2000,1.6),(2200,1.9),(2300,1.3),(2500,2.1),
            (2600,1.0),(2800,2.42),(2900,2.7),(3000,1.5),(3300,1.9),(3500,1.1),(3850,2.12),
            (-1800,0.7),(-1500,0.9),(-1200,0.6),(-900,1.05),(-600,0.55),(-400,0.95),(-200,0.8),(100,0.65),
            (300,1.0),(500,0.75),(800,0.9),(1100,1.2),(-1000,0.4),(0,0.5)]
THCA_EST_CORE = [(-2550,0.6),(-2350,1.0),(-2150,0.3),(-1950,1.4),(-1750,0.9),(-1550,0.5),(-1350,1.3),(-1150,0.3),
                 (-950,1.5),(-750,0.9),(-550,0.4),(-350,1.0),(-150,1.3),(50,0.35),(250,1.1),(450,0.6),(650,1.4),
                 (850,0.5),(1050,1.0),(1250,0.7),(1450,1.3),(1650,0.9),(1850,1.5),(-2000,0.75),(-1400,0.7),
                 (-800,0.2),(-200,0.6),(400,1.7),(1000,0.45),(1600,0.6)]
KIRC_STR = [(-1550,3.85),(-1500,1.1),(-1400,0.2),(-1200,0.5),(-1100,1.5),(-1000,0.9),(-900,0.3),(-800,1.3),
            (-700,2.3),(-600,0.7),(-600,1.7),(-550,5.75),(-500,4.25),(-500,1.1),(-400,2.6),(-400,0.5),(-300,1.5),
            (-300,2.2),(-200,0.9),(-200,4.3),(-100,1.9),(-100,3.0),(0,1.2),(0,2.6),(0,4.1),(50,0.6),(100,1.8),
            (100,3.6),(150,2.4),(200,1.4),(200,4.8),(250,0.8),(300,2.0),(300,3.2),(350,1.2),(400,2.7),(400,1.6),
            (450,3.7),(500,0.9),(500,2.2),(550,1.5),(600,2.9),(600,0.6),(650,1.9),(700,2.5),(700,3.8),(750,1.2),
            (800,2.2),(850,1.7),(900,3.0),(950,1.0),(1000,2.4),(1050,1.6),(1100,3.6),(1200,2.0),(1250,1.3),
            (1300,2.8),(1400,1.8),(1500,2.6),(1600,2.3),
            (-200,1.3),(0,1.7),(100,1.0),(200,2.2),(300,1.5),(400,1.1),(500,1.8),(600,1.3),(700,1.7),(800,1.1),
            (900,2.0),(1000,1.4),(350,2.5),(650,2.2)]
KIRC_STR_CORE = [(-750,1.0),(-650,1.9),(-550,0.8),(-450,1.3),(-350,0.9),(-250,2.4),(-150,1.4),(-50,0.8),(50,2.2),
                 (150,1.6),(250,1.1),(250,2.9),(350,1.8),(450,1.0),(450,2.4),(550,2.0),(650,1.4),(750,2.7),(750,0.9),
                 (850,2.2),(950,1.4),(1050,2.7),(1150,1.9),(1250,2.4),(1350,1.6),(1450,2.2),(1550,1.8),(600,1.9),
                 (100,2.7),(900,1.8)]
KIRC_IMM = [(-700,3.85),(-600,0.2),(-400,0.5),(-300,1.0),(-200,0.3),(-100,1.3),(0,4.25),(0,0.6),(50,1.8),(100,0.9),
            (200,2.4),(250,0.4),(300,1.4),(350,4.3),(400,2.0),(450,0.8),(500,1.6),(550,3.0),(600,1.1),(650,2.3),
            (700,0.5),(750,1.8),(800,4.4),(850,2.9),(900,1.3),(950,2.1),(1000,0.7),(1050,2.6),(1100,1.6),(1150,3.4),
            (1200,1.0),(1250,2.2),(1300,1.8),(1350,2.8),(1400,4.0),(1450,1.4),(1500,2.4),(1550,3.8),(1600,1.9),
            (1650,2.9),(1700,1.2),(1750,2.3),(1800,3.3),(1850,1.7),(1900,2.6),(2000,4.75),(2000,1.9),(2100,2.8),
            (2200,5.75),(2200,1.6),(2300,3.9),(2400,2.4),(2500,2.0),(2600,3.2),(2700,1.8),(2800,2.5),(2900,2.1),
            (3100,2.9),(3300,4.4),
            (400,1.2),(600,1.7),(800,1.0),(1000,1.5),(1200,2.0),(1300,1.2),(1500,1.6),(1700,2.0),(1800,1.4),
            (2000,2.3),(900,2.4),(1100,1.1),(1400,1.9),(1600,2.6)]
KIRC_IMM_CORE = [(100,1.4),(200,0.7),(300,1.9),(400,1.0),(500,2.4),(600,0.8),(700,1.6),(800,2.2),(900,1.0),
                 (1000,2.0),(1100,2.7),(1200,1.5),(1300,2.5),(1400,1.1),(1500,1.8),(1600,2.9),(1700,1.6),(1800,2.4),
                 (1900,1.2),(2000,2.8),(2100,1.5),(2200,2.2),(2300,1.8),(2400,2.9),(2500,1.5),(2600,2.4),(2700,2.9),
                 (2800,1.9),(2900,2.7),(3000,2.3)]
KIRC_EST = [(-2300,3.85),(-2200,0.2),(-1900,1.1),(-1500,0.5),(-1200,0.8),(-800,1.3),(-500,0.4),(-300,2.0),
            (0,4.25),(0,0.7),(200,1.5),(400,2.8),(500,1.0),(700,2.2),(800,0.5),(900,1.7),(1000,4.4),(1100,2.6),
            (1200,1.2),(1300,3.0),(1400,1.9),(1500,0.8),(1600,2.4),(1700,4.0),(1750,1.5),(1800,5.75),(1900,2.9),
            (2000,1.9),(2100,3.6),(2200,1.3),(2300,2.6),(2400,4.75),(2500,2.0),(2600,3.2),(2700,1.6),(2800,2.5),
            (2900,3.7),(3000,1.9),(3100,2.8),(3200,1.4),(3300,2.3),(3400,3.3),(3500,2.0),(3600,2.6),(3700,1.8),
            (3800,4.4),(3900,3.4),(4000,2.2),(4200,2.9),(4400,2.0),(4600,2.5),(4800,2.6),
            (1000,1.3),(1300,1.8),(1600,1.4),(1800,2.0),(2000,1.2),(2200,2.2),(2400,1.6),(2600,1.9),(2800,1.4),
            (3000,2.4),(3200,1.9),(2100,1.7),(2500,2.7),(1500,2.1)]
KIRC_EST_CORE = [(100,1.0),(300,2.0),(500,1.5),(700,0.8),(900,2.3),(1100,1.5),(1300,1.0),(1400,2.6),(1500,1.6),
                 (1700,2.2),(1800,1.1),(1900,2.6),(2000,1.5),(2100,2.2),(2200,2.9),(2300,1.7),(2400,2.3),(2500,1.4),
                 (2600,2.8),(2700,2.1),(2800,3.0),(2900,1.8),(3000,2.6),(3100,1.6),(3300,2.8),(3500,1.7),(3700,2.4),
                 (3900,2.0),(4100,2.6),(4300,1.9)]

# ---------------- B, row 2: STAD (n = 388), SKCM (n = 101) ----------------
STAD_STR = [(-2000,4.2),(-1950,4.8),(-1900,3.9),(-1850,4.5),(-1800,4.0),(-1750,5.0),(-1700,3.7),(-1650,4.4),
            (-1600,2.7),(-1550,5.3),(-1500,4.6),(-1450,3.5),(-1400,4.9),(-1350,4.1),(-1300,5.5),(-1250,3.2),
            (-1200,6.2),(-1150,4.4),(-1100,3.8),(-1050,5.0),(-1000,4.2),(-950,2.9),(-900,4.7),(-850,3.5),(-800,5.2),
            (-750,4.0),(-700,0.6),(-700,2.6),(-650,4.6),(-600,5.9),(-550,3.6),(-500,4.3),(-450,2.3),(-400,5.4),
            (-350,3.9),(-300,7.0),(-300,4.8),(-250,3.2),(-200,4.2),(-150,5.0),(-100,2.0),(-100,3.7),(-50,4.5),
            (0,3.1),(0,5.4),(50,4.0),(100,2.6),(150,4.7),(200,3.4),(250,5.0),(300,3.0),(350,4.3),(400,1.2),(400,3.7),
            (450,2.2),(500,4.6),(550,1.1),(600,3.3),(650,4.1),(700,2.7),(750,3.8),(800,1.6),(850,3.1),(900,4.3),
            (950,2.4),(1000,3.5),(1100,2.1),(1150,4.0),(1200,2.9),(1300,1.8),(1350,3.4),(1400,2.4),(1500,3.1),
            (1550,2.0),(1650,2.8),(1750,3.0),
            (-1200,4.9),(-900,4.0),(-600,4.4),(-400,4.6),(-200,3.8),(0,4.3),(200,4.1),(400,4.8),(-800,3.6),
            (-500,5.1),(100,3.6),(300,4.0),(-1500,4.1),(600,4.0)]
STAD_STR_CORE = [(-1950,4.3),(-1850,3.7),(-1750,4.5),(-1650,3.9),(-1550,4.2),(-1450,4.4),(-1350,3.6),(-1250,4.6),
                 (-1150,3.9),(-1050,4.4),(-950,3.8),(-850,4.6),(-750,4.4),(-650,3.7),(-550,4.9),(-450,4.0),
                 (-350,4.5),(-250,4.1),(-150,4.4),(-50,3.7),(50,4.4),(150,3.9),(250,4.2),(350,3.5),(450,4.0),
                 (550,3.7),(650,3.5),(850,3.8),(1050,3.1),(1250,3.4)]
STAD_IMM = [(-1100,2.6),(-900,4.6),(-850,3.3),(-800,5.0),(-750,4.2),(-700,6.2),(-650,3.7),(-600,4.8),(-550,3.1),
            (-500,4.4),(-450,5.5),(-400,3.9),(-350,4.6),(-300,3.4),(-250,5.0),(-200,4.1),(-150,2.9),(-100,4.7),
            (-50,3.6),(0,5.6),(0,4.2),(50,3.2),(100,4.9),(150,3.8),(200,2.5),(250,4.4),(300,3.5),(350,0.6),(350,5.2),
            (400,4.0),(450,2.9),(500,4.6),(550,3.3),(600,5.0),(650,2.0),(700,3.9),(750,5.8),(800,3.0),(850,4.3),
            (900,1.0),(950,3.6),(1000,4.7),(1050,2.7),(1100,3.9),(1150,1.2),(1200,4.4),(1250,3.2),(1300,2.3),
            (1350,4.0),(1400,3.4),(1500,7.0),(1500,2.8),(1550,4.4),(1600,3.7),(1700,2.5),(1800,4.1),(1900,3.0),
            (2000,2.0),(2100,3.5),(2200,4.3),(2300,2.6),(2400,3.9),(2500,2.0),(2600,3.2),(2700,5.4),(2800,2.6),
            (2900,3.6),(3100,3.4),
            (-300,4.3),(100,4.0),(300,4.5),(500,3.8),(700,4.3),(900,3.9),(1100,4.5),(1300,3.6),(-600,4.4),
            (200,4.3),(600,4.2),(800,4.6),(1000,4.0),(1600,4.2)]
STAD_IMM_CORE = [(-850,4.1),(-750,4.6),(-650,4.3),(-550,4.6),(-450,3.9),(-350,4.2),(-250,4.4),(-150,3.8),(-50,4.4),
                 (50,4.6),(150,4.2),(250,3.9),(350,4.3),(450,3.8),(550,4.1),(650,4.4),(750,3.5),(850,4.0),(950,4.2),
                 (1050,3.6),(1150,4.1),(1250,3.8),(1350,3.6),(1450,4.2),(1650,3.9),(1750,3.3),(1850,3.7),(1950,3.5),
                 (2150,3.9),(2350,3.4)]
STAD_EST = [(-2700,4.7),(-2600,2.6),(-2400,4.2),(-2200,5.2),(-2000,3.8),(-1800,4.6),(-1600,3.3),(-1500,5.5),
            (-1400,4.1),(-1300,6.2),(-1200,3.6),(-1100,4.8),(-1000,3.0),(-900,5.1),(-800,4.3),(-700,3.5),(-600,4.9),
            (-500,2.8),(-400,4.0),(-300,5.6),(-200,3.4),(-100,4.5),(0,0.6),(0,3.9),(0,6.0),(100,2.6),(200,4.7),
            (300,3.2),(400,5.2),(500,4.1),(600,2.4),(700,3.7),(800,5.0),(900,3.0),(1000,4.4),(1100,2.2),(1200,1.1),
            (1200,3.8),(1300,7.0),(1400,4.6),(1500,3.3),(1600,1.1),(1700,2.6),(1800,4.2),(1900,3.6),(2000,5.4),
            (2100,2.0),(2200,3.9),(2300,3.0),(2400,4.4),(2500,2.3),(2600,3.6),(2800,2.0),(2900,3.2),(3100,4.0),
            (3200,2.6),(3400,3.4),(3600,2.2),(3800,3.0),(4000,4.85),(4200,2.4),(4400,3.3),(4600,2.6),
            (-1000,4.4),(-500,4.2),(0,4.6),(300,4.2),(600,4.5),(900,4.0),(1200,4.4),(-700,4.0),(-200,4.0),
            (500,3.7),(1500,4.1),(1900,4.6),(700,4.4),(-1600,4.3)]
STAD_EST_CORE = [(-2500,4.4),(-2300,4.0),(-2100,4.6),(-1900,4.3),(-1700,4.0),(-1500,4.5),(-1300,4.1),(-1100,4.3),
                 (-900,3.9),(-700,4.6),(-500,4.1),(-300,4.4),(-100,3.8),(100,4.3),(300,4.0),(500,4.5),(700,3.9),
                 (900,4.2),(1100,3.7),(1300,4.3),(1500,3.9),(1700,3.6),(1900,4.0),(2100,3.7),(2300,3.5),(2500,3.9),
                 (2700,3.4),(2900,3.7),(3100,3.3),(3300,3.6)]
SKCM_STR = [(-1530,3.9),(-1500,4.0),(-1450,1.45),(-1450,3.4),(-1400,2.9),(-1380,3.7),(-1350,2.7),(-1300,4.2),
            (-1300,2.4),(-1280,4.3),(-1250,3.8),(-1250,1.9),(-1200,3.2),(-1200,4.1),(-1150,3.5),(-1100,2.6),
            (-1050,3.3),(-1050,5.35),(-1000,3.6),(-1000,4.2),(-980,2.3),(-950,2.1),(-950,3.4),(-900,1.1),(-900,3.2),
            (-850,4.2),(-850,1.6),(-800,2.7),(-800,3.9),(-780,3.3),(-750,2.8),(-700,4.55),(-700,3.2),(-650,2.3),
            (-650,4.6),(-620,3.3),(-600,2.6),(-600,1.55),(-550,3.0),(-550,2.0),(-500,4.3),(-500,2.6),(-480,1.6),
            (-450,3.2),(-420,1.2),(-400,2.3),(-400,3.1),(-380,0.9),(-350,1.1),(-350,2.7),(-300,2.0),(-250,3.3),
            (-200,1.65),(-150,2.3),(-100,0.85),(-50,3.4),(0,2.3),(50,2.6),(100,4.35),(150,1.75),(200,3.9),
            (250,1.75),(300,2.6),(340,1.6),(370,1.4)]
SKCM_IMM = [(-1050,3.6),(-950,2.75),(-850,4.35),(-800,3.3),(-750,3.1),(-700,4.0),(-650,3.4),(-600,4.2),(-550,1.9),
            (-550,2.9),(-500,3.6),(-450,2.7),(-400,2.3),(-400,4.2),(-350,3.0),(-300,1.45),(-300,4.25),(-250,3.7),
            (-200,2.6),(-150,3.9),(-100,3.3),(-50,1.7),(0,3.95),(0,2.1),(50,3.0),(100,1.6),(150,4.7),(150,2.7),
            (200,1.3),(250,3.0),(300,2.4),(350,4.35),(350,3.3),(400,1.6),(450,4.55),(450,2.9),(500,2.2),(550,3.1),
            (600,4.25),(600,1.05),(650,5.35),(650,2.3),(700,3.1),(750,1.55),(800,2.4),(850,3.3),(900,1.1),(950,2.7),
            (1000,3.1),(1050,2.1),(1100,3.0),(1150,2.6),(1250,1.7),(1300,3.95),(1350,2.2),(1450,0.9),(1500,1.4),
            (1600,4.1),(1700,2.8),(1800,2.1),(1900,3.6),(2000,1.75),(2100,3.35),(2250,3.2),(2400,3.9)]
SKCM_EST = [(-2100,4.0),(-2000,3.6),(-1950,4.35),(-1850,2.9),(-1800,1.9),(-1750,4.2),(-1700,3.6),(-1700,1.45),
            (-1650,3.3),(-1600,4.25),(-1600,2.7),(-1550,2.4),(-1500,3.1),(-1450,3.8),(-1400,2.65),(-1350,4.2),
            (-1300,3.3),(-1250,2.3),(-1200,2.75),(-1150,3.95),(-1100,1.7),(-1050,2.2),(-1000,3.95),(-950,2.9),
            (-900,1.65),(-850,2.1),(-800,3.2),(-750,2.5),(-700,2.8),(-650,3.6),(-600,1.5),(-550,2.0),(-500,3.3),
            (-450,4.7),(-400,5.35),(-400,1.1),(-350,4.4),(-350,2.6),(-300,4.55),(-300,1.3),(-250,3.4),(-200,2.2),
            (-150,2.8),(-100,3.0),(-50,1.9),(0,2.7),(50,3.1),(100,2.4),(150,2.0),(200,3.4),(250,2.8),(300,2.9),
            (350,2.6),(400,1.1),(450,3.2),(500,2.5),(550,1.7),(600,2.2),(650,4.1),(700,3.9),(750,3.2),(800,2.7),
            (850,3.6),(900,1.95),(950,2.2),(1000,0.9),(1100,2.1),(1200,1.7),(1300,2.9),(1400,2.2),(1500,2.8),
            (1700,1.4),(1800,2.4),(2000,1.75),(2100,3.35),(2200,3.2),(2400,2.7),(2500,3.9)]

DATA = [THYM_B, THYM_CD4, THYM_CD8, THYM_NEU, THYM_MAC, THYM_DC,
        THCA_B + THCA_B_CORE, THCA_CD4 + THCA_CD4_CORE, THCA_CD8 + THCA_CD8_CORE,
        THCA_NEU + THCA_NEU_CORE, THCA_MAC + THCA_MAC_CORE, THCA_DC + THCA_DC_CORE,
        LIHC_B + LIHC_B_CORE, LIHC_CD4 + LIHC_CD4_CORE, LIHC_CD8 + LIHC_CD8_CORE,
        LIHC_NEU + LIHC_NEU_CORE, LIHC_MAC + LIHC_MAC_CORE, LIHC_DC + LIHC_DC_CORE,
        THCA_STR + THCA_STR_CORE, THCA_IMM + THCA_IMM_CORE, THCA_EST + THCA_EST_CORE,
        KIRC_STR + KIRC_STR_CORE, KIRC_IMM + KIRC_IMM_CORE, KIRC_EST + KIRC_EST_CORE,
        STAD_STR + STAD_STR_CORE, STAD_IMM + STAD_IMM_CORE, STAD_EST + STAD_EST_CORE,
        SKCM_STR, SKCM_IMM, SKCM_EST]

TITLES = (["THYM (n = 118)"] * 6 + ["THCA (n = 500)"] * 6 + ["LIHC (n = 369)"] * 6 +
          ["THCA (n = 503)"] * 3 + ["KIRC (n = 528)"] * 3 + ["STAD (n = 388)"] * 3 + ["SKCM (n = 101)"] * 3)
CELLS = ["B_cell level", "CD4_Tcell level", "CD8_Tcell level", "Neutrophil level", "Macrophage level", "Dendritic level"]
SCORES = ["Stromal_score", "Immune_score", "ESTIMATE_score"]
XLABELS = CELLS * 3 + SCORES * 4

XDOM = [[-0.016, 0.33], [-0.028, 0.59], [-0.0175, 0.3675], [0.010, 0.169], [-0.012, 0.254], [0.30, 0.905],
        [-0.045, 0.85], [-0.025, 0.52], [-0.05, 1.05], [0.027, 0.337], [-0.015, 0.315], [0.30, 1.65],
        [-0.055, 1.355], [-0.05, 1.335], [-0.03, 1.15], [0.044, 0.281], [-0.05, 1.07], [0.30, 2.02],
        [-2050, 1450], [-1300, 3300], [-2950, 4200], [-1650, 1700], [-900, 3500], [-2650, 5150],
        [-2200, 2000], [-1250, 3300], [-3000, 5000], [-1560, 420], [-1100, 2420], [-2180, 2620]]
XTICKS = [[0, 0.1, 0.2, 0.3], [0, 0.2, 0.4], [0, 0.1, 0.2, 0.3], [0.04, 0.08, 0.12, 0.16],
          [0, 0.05, 0.1, 0.15, 0.2, 0.25], [0.4, 0.6, 0.8],
          [0, 0.2, 0.4, 0.6, 0.8], [0, 0.1, 0.2, 0.3, 0.4, 0.5], [0, 0.25, 0.5, 0.75, 1.0], [0.1, 0.2, 0.3],
          [0, 0.1, 0.2, 0.3], [0.4, 0.8, 1.2, 1.6],
          [0, 0.5, 1.0], [0, 0.5, 1.0], [0, 0.3, 0.6, 0.9], [0.05, 0.1, 0.15, 0.2, 0.25],
          [0, 0.25, 0.5, 0.75, 1.0], [0.5, 1.0, 1.5],
          [-2000, -1000, 0, 1000], [-1000, 0, 1000, 2000, 3000], [-2000, 0, 2000, 4000],
          [-1000, 0, 1000], [0, 1000, 2000, 3000], [-2500, 0, 2500, 5000],
          [-2000, -1000, 0, 1000], [-1000, 0, 1000, 2000, 3000], [-2500, 0, 2500],
          [-1500, -1000, -500, 0], [-1000, 0, 1000, 2000], [-2000, -1000, 0, 1000, 2000]]
XFMT = [".1f", ".1f", ".1f", ".2f", ".2f", ".1f",
        ".1f", ".1f", ".2f", ".1f", ".1f", ".1f",
        ".1f", ".1f", ".1f", ".2f", ".2f", ".1f"] + ["d"] * 12
YDOM = [[0.08, 6.19], [0.07, 6.0], [0.1, 6.4], [0.1, 5.8], [0.15, 6.85], [0.02, 7.05]] + \
       [[-0.08, 3.25]] * 6 + \
       [[-0.27, 6.95], [-0.27, 6.95], [-0.22, 5.76], [-0.23, 5.8], [-0.26, 6.7], [-0.23, 5.8]] + \
       [[-0.12, 3.24]] * 3 + [[-0.2, 6.05]] * 3 + [[0.0, 7.25]] * 3 + [[0.8, 5.6]] * 3
YTICKS = [[2, 4, 6], [1, 2, 3, 4, 5], [2, 4, 6], [1, 2, 3, 4, 5], [2, 4, 6], [2, 4, 6]] + \
         [[0, 1, 2, 3]] * 6 + \
         [[0, 2, 4, 6], [0, 2, 4, 6], [0, 2, 4], [0, 2, 4], [0, 2, 4, 6], [0, 2, 4]] + \
         [[0, 1, 2, 3]] * 3 + [[0, 2, 4, 6]] * 3 + [[2, 4, 6]] * 3 + [[1, 2, 3, 4, 5]] * 3
# fitted line: x0, y0, x1, y1
FIT = [(0.0, 1.8, 0.315, 5.55), (0.0, 2.3, 0.57, 5.25), (0.0, 1.75, 0.35, 5.6), (0.018, 3.88, 0.162, 2.45),
       (0.0, 2.65, 0.242, 5.75), (0.332, 1.55, 0.878, 6.2),
       (0.0, 0.55, 0.84, 2.48), (0.0, 0.65, 0.5, 1.45), (0.0, 0.68, 1.0, 2.38), (0.04, 0.5, 0.32, 2.8),
       (0.0, 0.7, 0.3, 2.12), (0.36, 0.55, 1.56, 2.78),
       (0.03, 0.9, 1.3, 5.4), (0.02, 0.7, 1.28, 5.3), (0.03, 0.7, 1.12, 3.98), (0.055, 0.4, 0.27, 3.5),
       (0.0, 0.9, 1.02, 5.5), (0.37, 0.65, 1.93, 4.28),
       (-1900, 0.45, 1300, 1.65), (-1200, 0.5, 3000, 1.6), (-2700, 0.5, 3900, 1.62),
       (-1550, 0.95, 1600, 1.95), (-700, 0.65, 3300, 2.25), (-2300, 0.55, 4800, 2.25),
       (-2000, 4.7, 1800, 2.95), (-1100, 4.35, 3150, 3.3), (-2700, 4.65, 4600, 3.1),
       (-1530, 3.55, 370, 2.1), (-1050, 3.35, 2400, 2.4), (-2100, 3.35, 2550, 2.2)]
# confidence band: x of narrowest point, half width at left end, at narrowest, at right end
BAND = [(0.12, 0.22, 0.09, 0.33), (0.15, 0.22, 0.12, 0.45), (0.13, 0.3, 0.13, 0.6), (0.08, 0.67, 0.2, 0.8),
        (0.04, 0.25, 0.2, 0.75), (0.5, 0.3, 0.12, 0.45),
        (0.15, 0.06, 0.04, 0.2), (0.2, 0.08, 0.04, 0.14), (0.12, 0.06, 0.04, 0.28), (0.1, 0.07, 0.04, 0.2),
        (0.05, 0.05, 0.04, 0.2), (0.55, 0.05, 0.03, 0.18),
        (0.12, 0.15, 0.1, 1.1), (0.15, 0.2, 0.1, 1.2), (0.18, 0.15, 0.1, 0.7), (0.11, 0.2, 0.1, 0.45),
        (0.07, 0.12, 0.09, 0.7), (0.55, 0.12, 0.08, 0.55),
        (-600, 0.08, 0.03, 0.1), (500, 0.07, 0.03, 0.09), (0, 0.07, 0.03, 0.08),
        (300, 0.2, 0.06, 0.1), (1400, 0.15, 0.06, 0.12), (1500, 0.15, 0.06, 0.12),
        (-200, 0.15, 0.06, 0.14), (800, 0.13, 0.06, 0.13), (500, 0.13, 0.06, 0.14),
        (-700, 0.3, 0.14, 0.42), (500, 0.35, 0.14, 0.42), (0, 0.3, 0.14, 0.4)]
ANNOT = ["ρ = 0.86, p < 2.2e-16", "ρ = 0.72, p < 2.2e-16", "ρ = 0.68, p < 2.2e-16",
         "ρ = −0.19, p = 0.034", "ρ = 0.59, p = 1.6e-12", "ρ = 0.83, p < 2.2e-16",
         "ρ = 0.55, p < 2.2e-16", "ρ = 0.4, p < 2.2e-16", "ρ = 0.18, p = 3.7e-05",
         "ρ = 0.6, p < 2.2e-16", "ρ = 0.43, p < 2.2e-16", "ρ = 0.64, p < 2.2e-16",
         "ρ = 0.44, p < 2.2e-16", "ρ = 0.39, p = 1.4e-14", "ρ = 0.32, p = 3.6e-10",
         "ρ = 0.38, p = 8.5e-14", "ρ = 0.5, p < 2.2e-16", "ρ = 0.45, p < 2.2e-16",
         "ρ = 0.41, p < 2.2e-16", "ρ = 0.42, p < 2.2e-16", "ρ = 0.44, p < 2.2e-16",
         "ρ = 0.3, p = 3.3e-12", "ρ = 0.4, p < 2.2e-16", "ρ = 0.41, p < 2.2e-16",
         "ρ = −0.38, p = 5e-15", "ρ = −0.24, p = 1.5e-06", "ρ = −0.35, p = 9.1e-13",
         "ρ = −0.38, p = 8.1e-05", "ρ = −0.25, p = 0.012", "ρ = −0.31, p = 0.0016"]

STYLE_A = dict(w=166, h=160, tick=11.5, xt=15, yt=15, ts=3.5, lp=2, xtp=3, ytp=6, pt=26, ann=15,
               title=18, title_x=0, title_y=-17, ax=6)
STYLE_B = dict(w=140, h=122, tick=11, xt=14, yt=13, ts=2, lp=1, xtp=4, ytp=7, pt=24, ann=14,
               title=16.5, title_x=-2, title_y=-48, ax=5)
ONE = pd.DataFrame({"k": [0]})


def minor_vals(ticks, dom):
    step = ticks[1] - ticks[0]
    cand = [ticks[0] - step / 2] + [t + step / 2 for t in ticks]
    return [v for v in cand if dom[0] < v < dom[1]]


def text_layer(txt, x, y, size, color="black"):
    return alt.Chart(pd.DataFrame({"t": [txt]})).mark_text(
        align="left", baseline="middle", fontSize=size, font=FONT, color=color
    ).encode(text="t:N", x=alt.value(x), y=alt.value(y))


def frame_layer(x0, x1, y0, y1):
    # invisible box that fixes every panel's outer extent, so the concatenated panels line up
    return alt.Chart(ONE).mark_rect(opacity=0).encode(
        x=alt.value(x0), x2=alt.value(x1), y=alt.value(y0), y2=alt.value(y1))


def core_layers(i, st):
    df = pd.DataFrame(DATA[i], columns=["x", "y"])
    xs = alt.Scale(domain=XDOM[i], nice=False, zero=False)
    ys = alt.Scale(domain=YDOM[i], nice=False, zero=False)
    xax = alt.Axis(values=XTICKS[i], title=XLABELS[i], grid=True, labelOverlap=False,
                   labelExpr="replace(format(datum.value, '%s'), '\u2212', '-')" % XFMT[i],
                   labelFontSize=st["tick"], titleFontSize=st["xt"], tickSize=st["ts"],
                   labelPadding=st["lp"], titlePadding=st["xtp"])
    yax = alt.Axis(values=YTICKS[i], title=YLAB, grid=True, labelOverlap=False, format="d",
                   labelFontSize=st["tick"], titleFontSize=st["yt"], tickSize=st["ts"],
                   labelPadding=st["lp"], titlePadding=st["ytp"])
    gx = alt.Chart(pd.DataFrame({"x": minor_vals(XTICKS[i], XDOM[i])})).mark_rule(
        color="#F3F3F3", strokeWidth=0.8).encode(x=alt.X("x:Q", scale=xs, axis=xax))
    gy = alt.Chart(pd.DataFrame({"y": minor_vals(YTICKS[i], YDOM[i])})).mark_rule(
        color="#F3F3F3", strokeWidth=0.8).encode(y=alt.Y("y:Q", scale=ys, axis=yax))
    x0, y0, x1, y1 = FIT[i]
    xc, hl, hc, hr = BAND[i]
    bx = np.linspace(x0, x1, 61)
    mid = y0 + (y1 - y0) * (bx - x0) / (x1 - x0)
    t = np.where(bx < xc, (bx - xc) / (x0 - xc), (bx - xc) / (x1 - xc))
    he = np.where(bx < xc, hl, hr)
    half = np.sqrt(hc ** 2 + (he ** 2 - hc ** 2) * t ** 2)
    bdf = pd.DataFrame({"x": bx, "lo": mid - half, "hi": mid + half})
    band = alt.Chart(bdf).mark_area(color="#999999", opacity=0.4).encode(
        x=alt.X("x:Q", scale=xs, axis=xax), y=alt.Y("lo:Q", scale=ys, axis=yax), y2="hi:Q")
    line = alt.Chart(pd.DataFrame({"x": [x0, x1], "y": [y0, y1]})).mark_line(
        color="#3366FF", strokeWidth=2).encode(
        x=alt.X("x:Q", scale=xs, axis=xax), y=alt.Y("y:Q", scale=ys, axis=yax))
    pts = alt.Chart(df).mark_circle(color="black", opacity=1, size=st["pt"]).encode(
        x=alt.X("x:Q", scale=xs, axis=xax), y=alt.Y("y:Q", scale=ys, axis=yax))
    return [gx, gy, band, line, pts]


BOX = alt.ViewBackground(stroke="#555555", strokeWidth=1)


def a_panel(i, col, letter=None):
    st = STYLE_A
    w, h = st["w"], st["h"]
    layers = core_layers(i, st)
    layers.append(text_layer(ANNOT[i], st["ax"], h - 7, st["ann"], RED))
    layers.append(text_layer(TITLES[i], st["title_x"], st["title_y"], st["title"]))
    if letter:
        layers.append(text_layer(letter, -36, -20.5, 19))
    layers.append(frame_layer(-36, w + (12 if col < 5 else 0), -30, h + 38))
    return alt.layer(*layers).properties(width=w, height=h, view=BOX)


def b_panel(i, col, top_ext, letter=None):
    st = STYLE_B
    w, h = st["w"], st["h"]
    df = pd.DataFrame(DATA[i], columns=["x", "y"])
    xmin, xmax = float(df.x.min()), float(df.x.max())
    ymin, ymax = float(df.y.min()), float(df.y.max())
    core = alt.layer(*core_layers(i, st))
    # marginal density of the score, on top
    tb = alt.Chart(df).transform_density("x", as_=["x", "density"], extent=[xmin, xmax], steps=120)
    tenc = dict(x=alt.X("x:Q", scale=alt.Scale(domain=XDOM[i], nice=False, zero=False), axis=None),
                y=alt.Y("density:Q", scale=alt.Scale(zero=True, nice=False, range=[-4, -25]), axis=None))
    top = alt.layer(tb.mark_area(color="#FFA500").encode(**tenc),
                    tb.mark_line(color="black", strokeWidth=0.8).encode(**tenc))
    # marginal density of the expression, on the right
    rb = alt.Chart(df).transform_density("y", as_=["y", "density"], extent=[ymin, ymax], steps=120)
    renc = dict(y=alt.Y("y:Q", scale=alt.Scale(domain=YDOM[i], nice=False, zero=False), axis=None),
                x=alt.X("density:Q", scale=alt.Scale(zero=True, nice=False, range=[w + 4, w + 29]), axis=None))
    right = alt.layer(rb.mark_area(color="#0000FF", orient="horizontal").encode(**renc),
                      rb.mark_line(color="black", strokeWidth=0.8).encode(order=alt.Order("y:Q"), **renc))
    layers = [core, top, right,
              text_layer(ANNOT[i], st["ax"], h - 7, st["ann"], RED),
              text_layer(TITLES[i], st["title_x"], st["title_y"], st["title"])]
    if letter:
        layers.append(text_layer(letter, -36, -50, 19))
    layers.append(frame_layer(-36, w + 30, top_ext, h + 32))
    return alt.layer(*layers).resolve_scale(x="independent", y="independent").properties(
        width=w, height=h, view=BOX)


# panel pitch about 216 px
rowsA = []
for r in range(3):
    panels = [a_panel(r * 6 + c, c, "A" if (r == 0 and c == 0) else None) for c in range(6)]
    rowsA.append(alt.hconcat(*panels, spacing=2.8))
groupA = alt.vconcat(*rowsA, spacing=9)

rowsB = []
for r in range(2):
    panels = [b_panel(18 + r * 6 + c, c, -60 if r == 0 else -57, "B" if (r == 0 and c == 0) else None)
              for c in range(6)]
    rowsB.append(alt.hconcat(*panels, spacing=10.8))
groupB = alt.vconcat(*rowsB, spacing=6)

chart = alt.vconcat(groupA, groupB, spacing=63).properties(
    padding={"left": 0, "top": -9, "right": 0, "bottom": 0}
).configure(font=FONT).configure_view(stroke="transparent").configure_axis(
    labelFont=FONT, titleFont=FONT, labelColor="#4D4D4D", titleColor="black",
    tickColor="#333333", tickWidth=1, domain=False, gridColor="#EBEBEB", gridWidth=1,
    titleFontWeight="normal"
)

chart.save("out.html", embed_options={"renderer": "svg", "actions": False})
